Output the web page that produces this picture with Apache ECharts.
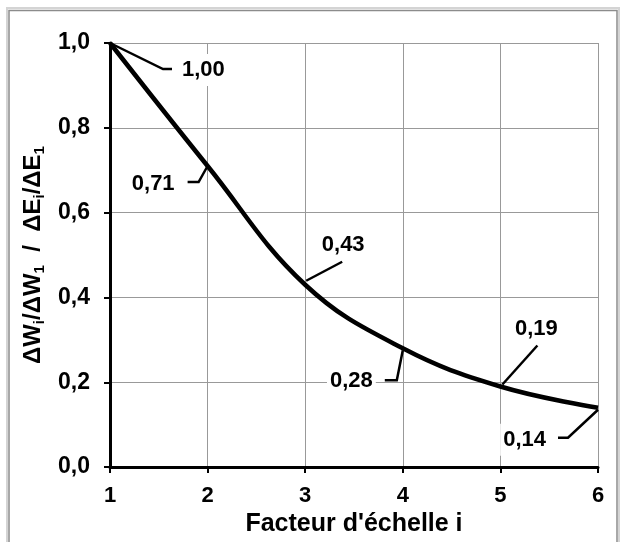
<!DOCTYPE html>
<html>
<head>
<meta charset="utf-8">
<script src="https://cdn.jsdelivr.net/npm/echarts@6/dist/echarts.min.js"></script>
<style>
html,body{margin:0;padding:0;background:#fff;}
#chart{width:623px;height:542px;}
</style>
</head>
<body>
<div id="chart"></div>
<script>
// ---- data ----
const scaleFactors = [1, 2, 3, 4, 5, 6];
const ratios = [1.00, 0.71, 0.43, 0.28, 0.19, 0.14];
const pointLabels = ['1,00', '0,71', '0,43', '0,28', '0,19', '0,14'];
const xTicks = ['1', '2', '3', '4', '5', '6'];
const yTicks = ['0,0', '0,2', '0,4', '0,6', '0,8', '1,0'];

// ---- leader line layout (pixel offsets from each point) ----
const leaderLayout = [
  { path: [[0, 0], [53, 26], [62, 26]], text: [69, 27], align: 'left' },
  { path: [[0, 0], [-9, 16], [-20, 16]], text: [-30, 18], align: 'right' },
  { path: [[1, -4], [37, -23]], text: [38, -40], align: 'center' },
  { path: [[0, 2], [-6, 32], [-18, 32]], text: [-27, 33], align: 'right' },
  { path: [[2, -2], [37, -41]], text: [36, -58], align: 'center' },
  { path: [[0, 2], [-30, 30], [-40, 30]], text: [-49, 32], align: 'right' }
];

const FONT = '"Liberation Sans", Arial, sans-serif';
const points = scaleFactors.map((x, i) => [x, ratios[i]]);

const chart = echarts.init(document.getElementById('chart'), null, { renderer: 'canvas' });
chart.setOption({
  backgroundColor: '#fff',
  animation: false,
  textStyle: { fontFamily: FONT },
  graphic: [
    { type: 'rect', silent: true, z: 0, shape: { x: 7, y: 8, width: 612, height: 600 },
      style: { fill: null, stroke: '#d4d4d4', lineWidth: 2 } },
    { type: 'rect', silent: true, z: 0, shape: { x: 9, y: 10.5, width: 608, height: 600 },
      style: { fill: null, stroke: '#8c8c8c', lineWidth: 1.5 } }
  ],
  grid: { left: 110, right: 25, top: 43, bottom: 72, containLabel: false },
  xAxis: {
    type: 'value', min: 1, max: 6, interval: 1,
    name: "Facteur d'échelle i",
    nameLocation: 'middle', nameGap: 38,
    nameTextStyle: { fontSize: 25, fontWeight: 'bold', color: '#000', fontFamily: FONT },
    axisLine: { show: true, onZero: false, lineStyle: { color: '#000', width: 3 } },
    axisTick: { show: true, length: 6, lineStyle: { color: '#000', width: 2 } },
    axisLabel: { margin: 18, fontSize: 22, fontWeight: 'bold', color: '#000', fontFamily: FONT,
      formatter: v => xTicks[Math.round(v) - 1] },
    splitLine: { show: true, lineStyle: { color: '#999', width: 1 } }
  },
  yAxis: {
    type: 'value', min: 0, max: 1, interval: 0.2,
    name: '{m|ΔW}{s|i}{m|/ΔW}{s|1}{m|  /  ΔE}{s|i}{m|/ΔE}{s|1}',
    nameLocation: 'middle', nameGap: 62, nameRotate: 90,
    nameTextStyle: {
      color: '#000', fontFamily: FONT,
      rich: {
        m: { fontSize: 24, fontWeight: 'bold', color: '#000', fontFamily: FONT, lineHeight: 28 },
        s: { fontSize: 15, fontWeight: 'bold', color: '#000', fontFamily: FONT, lineHeight: 14, verticalAlign: 'bottom' }
      }
    },
    axisLine: { show: true, lineStyle: { color: '#000', width: 3 } },
    axisTick: { show: true, length: 6, lineStyle: { color: '#000', width: 2 } },
    axisLabel: { margin: 20, fontSize: 23, fontWeight: 'bold', color: '#000', fontFamily: FONT,
      formatter: v => yTicks[Math.round(v / 0.2)] },
    splitLine: { show: true, lineStyle: { color: '#999', width: 1 } }
  },
  series: [
    {
      type: 'line', data: points, smooth: 0.4, showSymbol: false, symbol: 'none',
      lineStyle: { color: '#000', width: 4.5 }, z: 3
    },
    {
      type: 'custom', data: points, z: 4,
      renderItem: function (params, api) {
        const i = params.dataIndex;
        const p = api.coord([api.value(0), api.value(1)]);
        const L = leaderLayout[i];
        return {
          type: 'group',
          children: [
            { type: 'text', x: p[0] + L.text[0], y: p[1] + L.text[1], z2: 1,
              style: { text: pointLabels[i], fontSize: 22, fontWeight: 'bold', fontFamily: FONT,
                fill: '#000', align: L.align, verticalAlign: 'middle',
                backgroundColor: '#fff', padding: [5, 3, 5, 3] } },
            { type: 'polyline', z2: 2,
              shape: { points: L.path.map(o => [p[0] + o[0], p[1] + o[1]]) },
              style: { stroke: '#000', lineWidth: 2.5, fill: null } }
          ]
        };
      }
    }
  ]
});
</script>
</body>
</html>
